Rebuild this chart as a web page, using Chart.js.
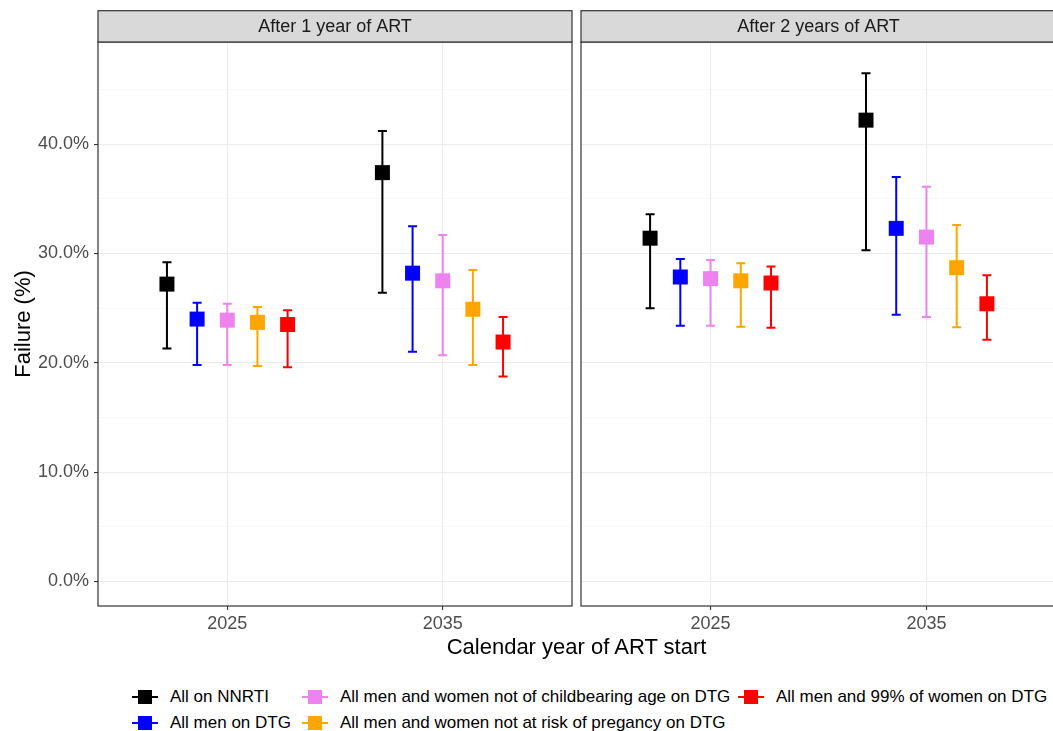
<!DOCTYPE html>
<html>
<head>
<meta charset="utf-8">
<style>
  html, body { margin: 0; padding: 0; background: #fff; }
  body { width: 1053px; height: 731px; overflow: hidden; position: relative;
         font-family: "Liberation Sans", Arial, sans-serif; }
  canvas { position: absolute; top: 0; }
  #c1 { left: 0; }
  #c2 { left: 576px; }
  #xtitle { position: absolute; left: 0; width: 1153px; top: 634px; text-align: center;
            font-size: 22px; color: #000; line-height: 26px; }
  .item { position: absolute; height: 20px; display: flex; align-items: center;
          font-size: 17px; color: #000; white-space: nowrap; }
  .key { position: relative; width: 26px; height: 20px; margin-right: 12px; }
  .key .ln { position: absolute; left: 0; top: 9px; width: 26px; height: 2px; }
  .key .sq { position: absolute; left: 6px; top: 3px; width: 14px; height: 14px; }
</style>
</head>
<body>
<canvas id="c1" width="580" height="641"></canvas>
<canvas id="c2" width="480" height="641"></canvas>
<div id="xtitle">Calendar year of ART start</div>
<div id="legend"></div>

<script src="https://cdn.jsdelivr.net/npm/chart.js"></script>
<script>
const years = [2025, 2035];
const panelTitles = ['After 1 year of ART', 'After 2 years of ART'];
const seriesLabels = [
  'All on NNRTI',
  'All men on DTG',
  'All men and women not of childbearing age on DTG',
  'All men and women not at risk of pregancy on DTG',
  'All men and 99% of women on DTG'
];
const seriesColors = ['#000000', '#0000FF', '#EE82EE', '#FFA500', '#FF0000'];
const dodgeOffsets = [-2.8, -1.4, 0, 1.4, 2.8];

// [estimate, lower, upper] for 2025 and 2035 (failure %)
const y1NNRTI           = [[27.2, 21.3, 29.2], [37.4, 26.4, 41.2]];
const y1MenDTG          = [[24.0, 19.8, 25.5], [28.2, 21.0, 32.5]];
const y1NotChildbearing = [[23.9, 19.8, 25.4], [27.5, 20.7, 31.7]];
const y1NotAtRisk       = [[23.7, 19.7, 25.1], [24.9, 19.8, 28.5]];
const y1Women99         = [[23.5, 19.6, 24.8], [21.9, 18.75, 24.2]];

const y2NNRTI           = [[31.4, 25.0, 33.6], [42.2, 30.3, 46.5]];
const y2MenDTG          = [[27.85, 23.4, 29.5], [32.3, 24.4, 37.0]];
const y2NotChildbearing = [[27.7, 23.4, 29.4], [31.5, 24.2, 36.1]];
const y2NotAtRisk       = [[27.5, 23.3, 29.1], [28.7, 23.25, 32.6]];
const y2Women99         = [[27.3, 23.2, 28.8], [25.4, 22.1, 28.0]];

const after1Year = [y1NNRTI, y1MenDTG, y1NotChildbearing, y1NotAtRisk, y1Women99];
const after2Years = [y2NNRTI, y2MenDTG, y2NotChildbearing, y2NotAtRisk, y2Women99];

const FONT = '"Liberation Sans", Arial, sans-serif';

function makeDatasets(panel) {
  return panel.map((rows, i) => ({
    label: seriesLabels[i],
    data: rows.map((r, j) => ({ x: years[j] + dodgeOffsets[i], y: r[0], lo: r[1], hi: r[2] })),
    backgroundColor: seriesColors[i],
    borderColor: seriesColors[i],
    borderWidth: 0,
    pointStyle: 'rect',
    pointRadius: 10.6,
    pointHoverRadius: 10.6,
    showLine: false
  }));
}

// error bars under the points
const errorBars = {
  id: 'errorBars',
  beforeDatasetsDraw(chart) {
    const { ctx, scales: { x, y } } = chart;
    chart.data.datasets.forEach(ds => {
      ctx.save();
      ctx.strokeStyle = ds.borderColor;
      ctx.lineWidth = 2;
      ds.data.forEach(p => {
        const px = x.getPixelForValue(p.x);
        const lo = y.getPixelForValue(p.lo);
        const hi = y.getPixelForValue(p.hi);
        ctx.beginPath();
        ctx.moveTo(px, lo); ctx.lineTo(px, hi);
        ctx.moveTo(px - 4.5, lo); ctx.lineTo(px + 4.5, lo);
        ctx.moveTo(px - 4.5, hi); ctx.lineTo(px + 4.5, hi);
        ctx.stroke();
      });
      ctx.restore();
    });
  }
};

// panel border + facet strip
const facetFrame = {
  id: 'facetFrame',
  afterDraw(chart, args, opts) {
    const { ctx, chartArea: a } = chart;
    ctx.save();
    ctx.lineWidth = 1.2;
    ctx.strokeStyle = '#333333';
    ctx.strokeRect(a.left, a.top, a.right - a.left, a.bottom - a.top);
    ctx.fillStyle = '#D9D9D9';
    ctx.fillRect(a.left, 10.7, a.right - a.left, a.top - 10.7);
    ctx.strokeRect(a.left, 10.7, a.right - a.left, a.top - 10.7);
    ctx.fillStyle = '#1A1A1A';
    ctx.font = '18px ' + FONT;
    ctx.textAlign = 'center';
    ctx.textBaseline = 'middle';
    ctx.fillText(opts.text, (a.left + a.right) / 2, (10.7 + a.top) / 2 + 1);
    ctx.restore();
  }
};

const yTicks = [0, 5, 10, 15, 20, 25, 30, 35, 40, 45];
const isMajor = v => Math.round(v) % 10 === 0;

function yScale(showAxis) {
  return {
    min: -2.25,
    max: 49.35,
    afterBuildTicks: s => { s.ticks = yTicks.map(v => ({ value: v })); },
    ticks: {
      display: showAxis,
      callback: v => isMajor(v) ? v.toFixed(1) + '%' : '',
      color: '#4D4D4D',
      font: { size: 18, family: FONT },
      padding: 5
    },
    grid: {
      color: c => isMajor(c.tick.value) ? '#EBEBEB' : '#F5F5F5',
      lineWidth: c => isMajor(c.tick.value) ? 1.1 : 0.6,
      drawTicks: showAxis,
      tickLength: 4,
      tickColor: c => isMajor(c.tick.value) ? '#333333' : 'rgba(0,0,0,0)'
    },
    border: { display: false },
    title: {
      display: showAxis,
      text: 'Failure (%)',
      color: '#000',
      font: { size: 22, family: FONT },
      padding: { top: 11, bottom: 0 }
    },
    afterFit: s => { s.width = showAxis ? 98 : 0; }
  };
}

function xScale() {
  return {
    type: 'linear',
    min: 2019,
    max: 2041,
    afterBuildTicks: s => { s.ticks = years.map(v => ({ value: v })); },
    ticks: {
      callback: v => String(v),
      color: '#4D4D4D',
      font: { size: 18, family: FONT },
      padding: 3,
      maxRotation: 0,
      autoSkip: false
    },
    grid: { color: '#EBEBEB', lineWidth: 1.1, tickLength: 4, tickColor: '#333333' },
    border: { display: false },
    afterFit: s => { s.height = 35; s.paddingLeft = 0; s.paddingRight = 0; }
  };
}

function buildPanel(canvasId, panel, title, showAxis, padding) {
  const ctx = document.getElementById(canvasId).getContext('2d');
  return new Chart(ctx, {
    type: 'scatter',
    data: { datasets: makeDatasets(panel) },
    options: {
      responsive: false,
      animation: false,
      events: [],
      layout: { padding: padding, autoPadding: false },
      scales: { x: xScale(), y: yScale(showAxis) },
      plugins: {
        legend: { display: false },
        tooltip: { enabled: false },
        facetFrame: { text: title }
      }
    },
    plugins: [errorBars, facetFrame]
  });
}

buildPanel('c1', after1Year, panelTitles[0], true, { top: 42, right: 8, left: 0, bottom: 0 });
buildPanel('c2', after2Years, panelTitles[1], false, { top: 42, right: 0, left: 5, bottom: 0 });

// legend (column-major, 2 rows)
const legendCols = [132, 302, 738];
const legendRows = [687, 713];
const legendEl = document.getElementById('legend');
seriesLabels.forEach((lab, i) => {
  const col = Math.floor(i / 2), row = i % 2;
  const item = document.createElement('div');
  item.className = 'item';
  item.style.left = legendCols[col] + 'px';
  item.style.top = legendRows[row] + 'px';
  item.innerHTML = '<span class="key"><span class="ln" style="background:' + seriesColors[i] +
    '"></span><span class="sq" style="background:' + seriesColors[i] + '"></span></span>';
  const t = document.createElement('span');
  t.textContent = lab;
  item.appendChild(t);
  legendEl.appendChild(item);
});
</script>
</body>
</html>
